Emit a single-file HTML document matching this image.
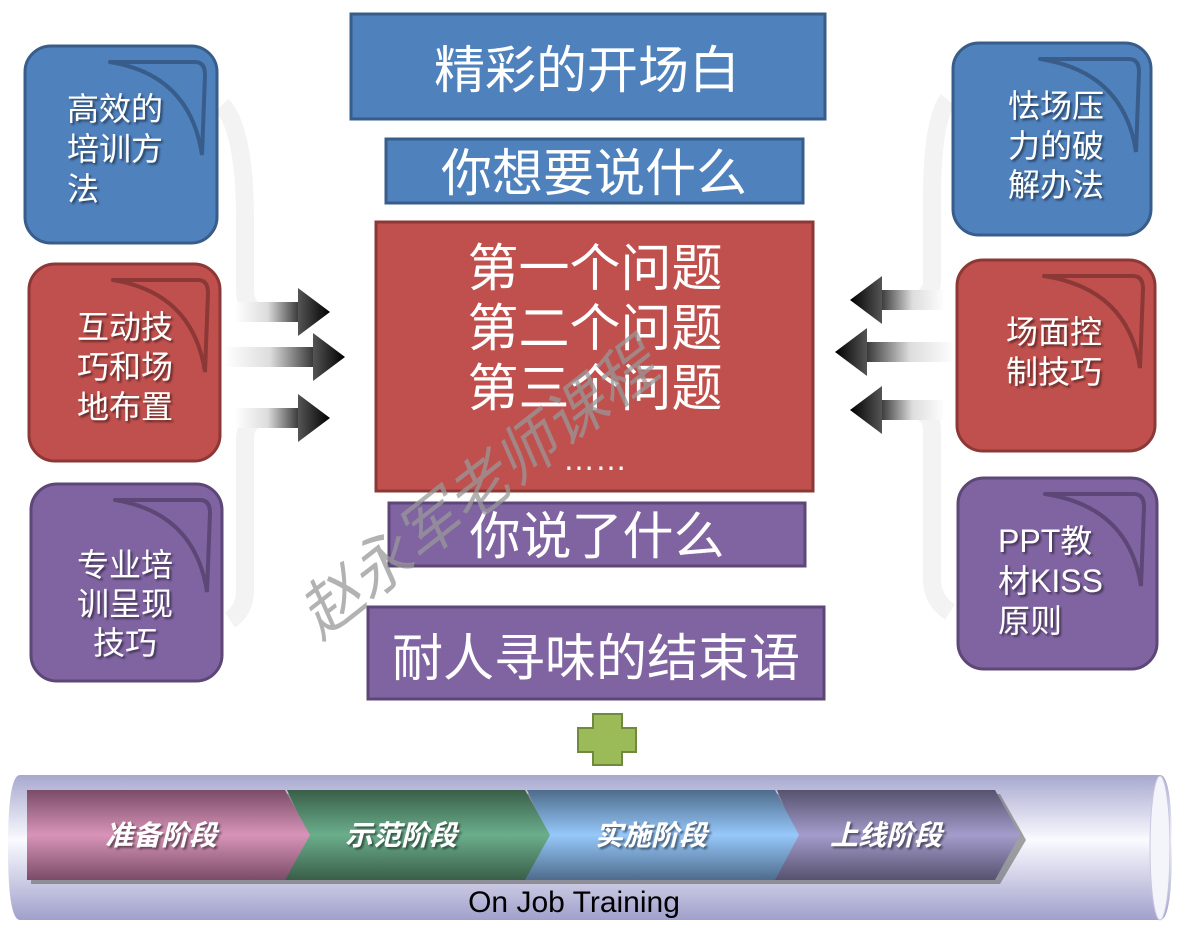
<!DOCTYPE html>
<html><head><meta charset="utf-8"><style>
body{margin:0;background:#fff}
svg{display:block}
text{font-family:"Liberation Sans","Noto Sans CJK SC",sans-serif}
</style></head><body>
<svg width="1179" height="931" viewBox="0 0 1179 931" xmlns="http://www.w3.org/2000/svg">
<defs>
<linearGradient id="arL" x1="0" x2="1" y1="0" y2="0"><stop offset="0" stop-color="#fff"/><stop offset="0.5" stop-color="#ddd"/><stop offset="1" stop-color="#333"/></linearGradient>
<linearGradient id="arR" x1="1" x2="0" y1="0" y2="0"><stop offset="0" stop-color="#fff"/><stop offset="0.5" stop-color="#ddd"/><stop offset="1" stop-color="#333"/></linearGradient>
<linearGradient id="hd" x1="0" x2="1"><stop offset="0" stop-color="#555"/><stop offset="1" stop-color="#000"/></linearGradient>
<linearGradient id="hdR" x1="1" x2="0"><stop offset="0" stop-color="#555"/><stop offset="1" stop-color="#000"/></linearGradient>
<linearGradient id="pipe" x1="0" y1="0" x2="0" y2="1"><stop offset="0" stop-color="#a8a8d0"/><stop offset="0.45" stop-color="#fafaff"/><stop offset="1" stop-color="#a0a0cc"/></linearGradient>
<linearGradient id="c1" x1="0" y1="0" x2="0" y2="1"><stop offset="0" stop-color="#7a4c68"/><stop offset="0.5" stop-color="#d894b8"/><stop offset="1" stop-color="#7a4c68"/></linearGradient>
<linearGradient id="c2" x1="0" y1="0" x2="0" y2="1"><stop offset="0" stop-color="#3a5e48"/><stop offset="0.5" stop-color="#6aae8c"/><stop offset="1" stop-color="#3a5e48"/></linearGradient>
<linearGradient id="c3" x1="0" y1="0" x2="0" y2="1"><stop offset="0" stop-color="#4e6c8c"/><stop offset="0.5" stop-color="#96c8fa"/><stop offset="1" stop-color="#4e6c8c"/></linearGradient>
<linearGradient id="c4" x1="0" y1="0" x2="0" y2="1"><stop offset="0" stop-color="#56526e"/><stop offset="0.5" stop-color="#a49ccc"/><stop offset="1" stop-color="#56526e"/></linearGradient>
<filter id="sh"><feDropShadow dx="2" dy="2" stdDeviation="1" flood-color="#000" flood-opacity="0.5"/></filter>
</defs>

<!-- rails -->
<g fill="none" stroke="#f3f3f3" stroke-width="18">
<path d="M222 105 Q245 130 245 220 L245 290 Q245 312 265 312"/>
<path d="M265 418 Q245 418 245 440 L245 590 Q245 610 230 620"/>
<path d="M948 100 Q932 120 932 200 L932 280 Q932 300 910 300"/>
<path d="M910 410 Q932 410 932 430 L932 580 Q932 600 950 612"/>
</g>
<!-- arrows left -->
<rect x="235" y="302" width="65" height="20" fill="url(#arL)"/><polygon points="298,288 330,312 298,336" fill="url(#hd)"/>
<rect x="225" y="347" width="90" height="20" fill="url(#arL)"/><polygon points="313,333 345,357 313,381" fill="url(#hd)"/>
<rect x="235" y="408" width="65" height="20" fill="url(#arL)"/><polygon points="298,394 330,418 298,442" fill="url(#hd)"/>
<!-- arrows right -->
<rect x="880" y="290" width="65" height="20" fill="url(#arR)"/><polygon points="882,276 850,300 882,324" fill="url(#hdR)"/>
<rect x="865" y="342" width="90" height="20" fill="url(#arR)"/><polygon points="867,328 835,352 867,376" fill="url(#hdR)"/>
<rect x="880" y="400" width="65" height="20" fill="url(#arR)"/><polygon points="882,386 850,410 882,434" fill="url(#hdR)"/>

<!-- side boxes -->
<g stroke-width="3">
<rect x="25" y="46" width="192" height="197" rx="26" fill="#4f81bd" stroke="#385d8a"/>
<rect x="29" y="264" width="191" height="197" rx="26" fill="#c0504d" stroke="#8c3836"/>
<rect x="31" y="484" width="191" height="197" rx="26" fill="#8064a2" stroke="#5c4776"/>
<rect x="953" y="43" width="198" height="192" rx="26" fill="#4f81bd" stroke="#385d8a"/>
<rect x="957" y="260" width="198" height="191" rx="26" fill="#c0504d" stroke="#8c3836"/>
<rect x="958" y="478" width="199" height="191" rx="26" fill="#8064a2" stroke="#5c4776"/>
</g>
<g fill="none" stroke-width="4" stroke-linecap="round">
<path d="M110 62 L195 62 Q205 62 205 75 L202 155 Q190 75 110 62" stroke="#385d8a"/>
<path d="M113 280 L198 280 Q208 280 208 293 L205 372 Q193 293 113 280" stroke="#8c3836"/>
<path d="M115 500 L200 500 Q210 500 210 513 L207 592 Q195 513 115 500" stroke="#5c4776"/>
<path d="M1040 59 L1129 59 Q1139 59 1139 72 L1136 152 Q1124 72 1040 59" stroke="#385d8a"/>
<path d="M1044 276 L1133 276 Q1143 276 1143 289 L1140 368 Q1128 289 1044 276" stroke="#8c3836"/>
<path d="M1045 494 L1134 494 Q1144 494 1144 507 L1141 586 Q1129 507 1045 494" stroke="#5c4776"/>
</g>
<g fill="#fff" font-size="32" filter="url(#sh)">
<text x="67" y="120">高效的</text><text x="67" y="160">培训方</text><text x="67" y="200">法</text>
<text x="77" y="338">互动技</text><text x="77" y="378">巧和场</text><text x="77" y="418">地布置</text>
<text x="77" y="576">专业培</text><text x="77" y="615">训呈现</text><text x="93" y="654">技巧</text>
<text x="1008" y="117">怯场压</text><text x="1008" y="157">力的破</text><text x="1008" y="196">解办法</text>
<text x="1006" y="343">场面控</text><text x="1006" y="383">制技巧</text>
<text x="998" y="552">PPT教</text><text x="998" y="592">材KISS</text><text x="998" y="632">原则</text>
</g>

<!-- center -->
<g stroke-width="3">
<rect x="351" y="14" width="474" height="105" fill="#4f81bd" stroke="#385d8a"/>
<rect x="386" y="139" width="417" height="64" fill="#4f81bd" stroke="#385d8a"/>
<rect x="376" y="222" width="437" height="269" fill="#c0504d" stroke="#8c3836"/>
<rect x="389" y="503" width="416" height="63" fill="#8064a2" stroke="#5c4776"/>
<rect x="368" y="607" width="456" height="92" fill="#8064a2" stroke="#5c4776"/>
</g>
<g fill="#fff" font-size="51" text-anchor="middle">
<text x="587" y="88">精彩的开场白</text>
<text x="594" y="191">你想要说什么</text>
<text x="595" y="286">第一个问题</text>
<text x="595" y="346">第二个问题</text>
<text x="595" y="406">第三个问题</text>
<text x="595" y="470" font-size="32">……</text>
<text x="597" y="554">你说了什么</text>
<text x="596" y="676">耐人寻味的结束语</text>
</g>
<text x="0" y="0" font-size="62" fill="#999" opacity="0.75" font-style="italic" transform="translate(320,640) rotate(-38)">赵永军老师课程</text>

<!-- plus -->
<polygon points="593,714 622,714 622,728 636,728 636,752 622,752 622,765 593,765 593,752 578,752 578,728 593,728" fill="#9bbb59" stroke="#71893f" stroke-width="2"/>

<!-- pipe -->
<path d="M20 775 L1160 775 Q1172 775 1172 848 Q1172 920 1160 920 L20 920 Q8 920 8 848 Q8 775 20 775 Z" fill="url(#pipe)"/>
<ellipse cx="1160" cy="848" rx="10" ry="72" fill="#f4f4fb" stroke="#c8c8e0"/>
<g>
<polygon points="31,794 1000,794 1026,840 1000,884 31,884" fill="#666" opacity="0.6"/>
<polygon points="777,790 995,790 1020,835 995,880 773,880 796,835" fill="url(#c4)"/>
<polygon points="527,790 775,790 799,835 775,880 523,880 548,835" fill="url(#c3)"/>
<polygon points="287,790 525,790 550,835 525,880 283,880 308,835" fill="url(#c2)"/>
<polygon points="27,790 285,790 310,835 285,880 27,880" fill="url(#c1)"/>
</g>
<g fill="#fff" font-size="28" font-weight="bold" font-style="italic" filter="url(#sh)">
<text x="105" y="845">准备阶段</text><text x="345" y="845">示范阶段</text><text x="595" y="845">实施阶段</text><text x="830" y="845">上线阶段</text>
</g>
<text x="574" y="912" font-size="30" text-anchor="middle" fill="#000">On Job Training</text>
</svg>
</body></html>
